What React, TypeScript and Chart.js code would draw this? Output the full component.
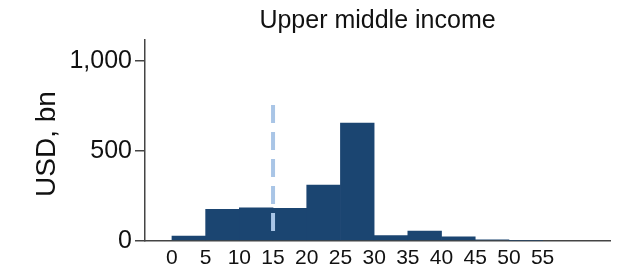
import React, { useEffect, useRef } from "react";
import { Chart, registerables } from "chart.js";

Chart.register(...registerables);

const TITLE = "Upper middle income";
const Y_TITLE = "USD, bn";
const BIN_STARTS = [0, 5, 10, 15, 20, 25, 30, 35, 40, 45, 50];
const BIN_WIDTH = 5;
const VALUES = [25, 174, 183, 180, 309, 654, 28, 54, 22, 4, 0];
const X_TICKS = [0, 5, 10, 15, 20, 25, 30, 35, 40, 45, 50, 55];
const Y_TICKS = [0, 500, 1000];
const MARKER_X = 15;
const MARKER_Y = [54, 767];

const FONT = "'Liberation Sans', Arial, sans-serif";

export default function App() {
  const ref = useRef<HTMLCanvasElement | null>(null);
  useEffect(() => {
    const canvas = ref.current;
    if (!canvas) return;
    const textPlugin = {
      id: "customText",
      afterDraw(chart: any) {
        const ctx = chart.ctx;
        const area = chart.chartArea;
        ctx.save();
        ctx.fillStyle = "#111";
        ctx.font = `25px ${FONT}`;
        ctx.textAlign = "center";
        ctx.textBaseline = "alphabetic";
        ctx.fillText(TITLE, (area.left + area.right) / 2, 28);
        ctx.translate(55, 144);
        ctx.rotate(-Math.PI / 2);
        ctx.font = `28px ${FONT}`;
        ctx.fillText(Y_TITLE, 0, 0);
        ctx.restore();
      },
    };
    const chart = new Chart(canvas, {
      type: "bar",
      data: {
        datasets: [
          {
            type: "line",
            data: MARKER_Y.map((y) => ({ x: MARKER_X, y })),
            borderColor: "#a9c5e6",
            borderWidth: 4,
            borderDash: [18, 9],
            borderCapStyle: "butt",
            pointRadius: 0,
            fill: false,
            order: 0,
          } as any,
          {
            type: "bar",
            data: BIN_STARTS.map((s, i) => ({ x: s + BIN_WIDTH / 2, y: VALUES[i] })),
            backgroundColor: "#1b4571",
            borderWidth: 0,
            barPercentage: 1,
            categoryPercentage: 1,
            order: 1,
          } as any,
        ],
      },
      options: {
        responsive: false,
        animation: false,
        layout: { padding: { left: 0, right: 11, top: 40, bottom: 0 } },
        plugins: {
          legend: { display: false },
          title: { display: false },
          tooltip: { enabled: false },
        },
        scales: {
          x: {
            type: "linear",
            offset: false,
            min: -4,
            max: 65,
            afterBuildTicks: (axis: any) => {
              axis.ticks = X_TICKS.map((v) => ({ value: v }));
            },
            afterFit: (axis: any) => {
              axis.height = 27.3;
            },
            grid: { display: false, drawTicks: false },
            border: { display: true, color: "#444", width: 1.5 },
            ticks: {
              padding: 5,
              maxRotation: 0,
              autoSkip: false,
              color: "#111",
              font: { family: FONT, size: 21 },
              callback: (v: any) => String(v),
            },
          },
          y: {
            type: "linear",
            min: 0,
            max: 1115,
            afterBuildTicks: (axis: any) => {
              axis.ticks = Y_TICKS.map((v) => ({ value: v }));
            },
            afterFit: (axis: any) => {
              axis.width = 145;
            },
            grid: {
              drawOnChartArea: false,
              drawTicks: true,
              tickLength: 10,
              color: "#444",
              lineWidth: 1.5,
            },
            border: { display: true, color: "#444", width: 1.5 },
            ticks: {
              padding: 3,
              color: "#111",
              font: { family: FONT, size: 25 },
              callback: (v: any) => Number(v).toLocaleString("en-US"),
            },
            title: { display: false },
          },
        },
      },
      plugins: [textPlugin],
    } as any);
    return () => chart.destroy();
  }, []);
  return (
    <div style={{ position: "fixed", left: 0, top: 0, width: 621, height: 268, background: "#fff" }}>
      <canvas ref={ref} width={621} height={268} />
    </div>
  );
}
